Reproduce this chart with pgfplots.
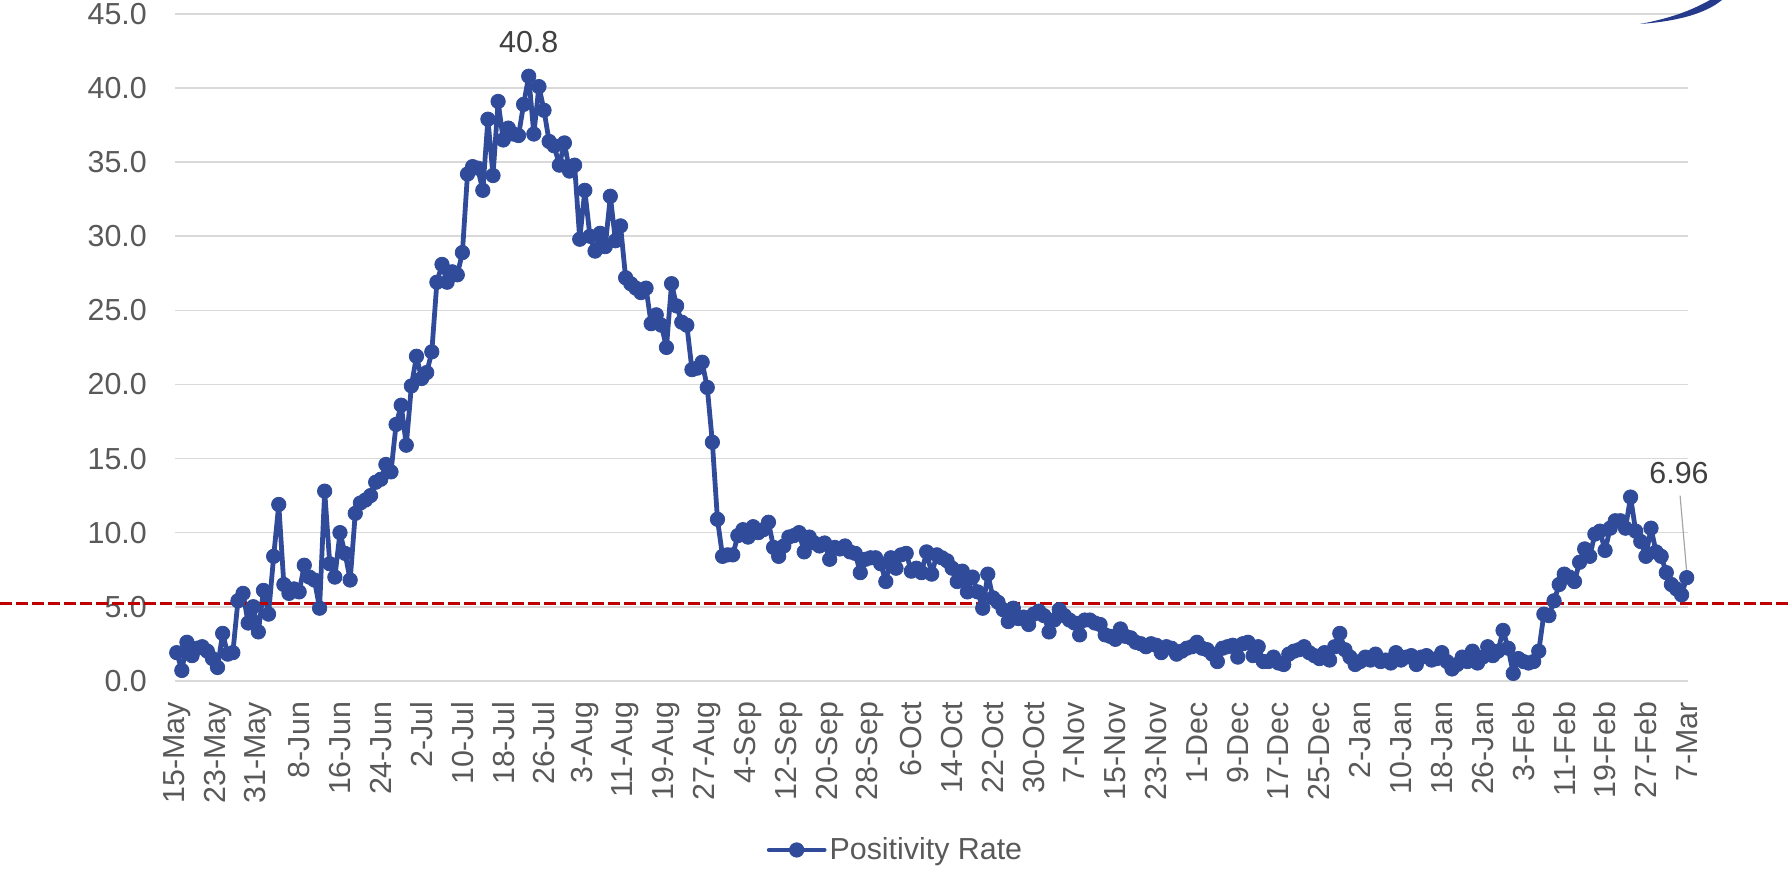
\documentclass[border=0pt]{standalone}
\usepackage{fontspec}
\setmainfont{Liberation Sans}
\usepackage{pgfplots}
\pgfplotsset{compat=1.18}
\definecolor{lineblue}{RGB}{47,75,153}
\definecolor{redline}{RGB}{192,0,0}
\definecolor{gridgray}{RGB}{217,217,217}
\definecolor{labelgray}{RGB}{89,89,89}
\definecolor{labeldark}{RGB}{64,64,64}
\definecolor{leadergray}{RGB}{166,166,166}
\definecolor{logoblue}{RGB}{38,58,140}
\newcommand{\lblfont}{\fontsize{15.2}{18}\selectfont}
\begin{document}
\begin{tikzpicture}
\useasboundingbox (0,0) rectangle (895.5pt,434.5pt);
\begin{axis}[
  at={(87.6pt,94.1pt)}, anchor=south west,
  scale only axis, width=756.5pt, height=333.4pt,
  xmin=-0.3, xmax=296.3, ymin=0, ymax=45,
  clip=false,
  axis line style={draw=none},
  major tick style={draw=none}, minor tick style={draw=none},
  ymajorgrids, grid style={draw=gridgray, line width=0.85pt},
  ytick={0,5,...,45},
  xtick={0,8,...,296},
  xticklabels={15-May,23-May,31-May,8-Jun,16-Jun,24-Jun,2-Jul,10-Jul,18-Jul,26-Jul,3-Aug,11-Aug,19-Aug,27-Aug,4-Sep,12-Sep,20-Sep,28-Sep,6-Oct,14-Oct,22-Oct,30-Oct,7-Nov,15-Nov,23-Nov,1-Dec,9-Dec,17-Dec,25-Dec,2-Jan,10-Jan,18-Jan,26-Jan,3-Feb,11-Feb,19-Feb,27-Feb,7-Mar},
  /pgf/number format/assume math mode=true,
  every tick label/.append style={font=\lblfont, text=labelgray},
  yticklabel style={/pgf/number format/fixed, /pgf/number format/fixed zerofill, /pgf/number format/precision=1, anchor=east, inner sep=0pt, xshift=-14pt},
  xticklabel style={rotate=90, anchor=east, inner sep=0pt},
  xticklabel shift=10.4pt,
  legend style={at={(0.4764,-0.2537)}, anchor=center, draw=none, fill=none, font=\lblfont, text=labelgray, inner sep=0pt, nodes={inner sep=1.5pt}},
  legend image code/.code={\draw[#1, mark repeat=2, mark phase=2] plot coordinates {(0pt,0pt) (13.75pt,0pt) (27.5pt,0pt)};},
]
\addplot[color=lineblue, line width=2.4pt, line join=round, line cap=round, mark=*, mark size=3.6pt, mark options={line width=0.4pt, fill=lineblue, draw=lineblue}] coordinates {
(0,1.9) (1,0.7) (2,2.6) (3,1.7) (4,2.2) (5,2.3) (6,2.0) (7,1.5) (8,0.9) (9,3.2)
(10,1.8) (11,1.9) (12,5.4) (13,5.9) (14,3.9) (15,5.0) (16,3.3) (17,6.1) (18,4.5) (19,8.4)
(20,11.9) (21,6.5) (22,5.9) (23,6.2) (24,6.0) (25,7.8) (26,7.0) (27,6.8) (28,4.9) (29,12.8)
(30,7.9) (31,7.0) (32,10.0) (33,8.6) (34,6.8) (35,11.3) (36,12.0) (37,12.2) (38,12.5) (39,13.4)
(40,13.6) (41,14.6) (42,14.1) (43,17.3) (44,18.6) (45,15.9) (46,19.9) (47,21.9) (48,20.4) (49,20.8)
(50,22.2) (51,26.9) (52,28.1) (53,26.9) (54,27.6) (55,27.4) (56,28.9) (57,34.2) (58,34.7) (59,34.6)
(60,33.1) (61,37.9) (62,34.1) (63,39.1) (64,36.5) (65,37.3) (66,36.9) (67,36.8) (68,38.9) (69,40.8)
(70,36.9) (71,40.1) (72,38.5) (73,36.4) (74,36.1) (75,34.8) (76,36.3) (77,34.4) (78,34.8) (79,29.8)
(80,33.1) (81,30.0) (82,29.0) (83,30.2) (84,29.3) (85,32.7) (86,29.7) (87,30.7) (88,27.2) (89,26.8)
(90,26.5) (91,26.2) (92,26.5) (93,24.1) (94,24.7) (95,24.0) (96,22.5) (97,26.8) (98,25.3) (99,24.2)
(100,24.0) (101,21.0) (102,21.1) (103,21.5) (104,19.8) (105,16.1) (106,10.9) (107,8.4) (108,8.5) (109,8.5)
(110,9.8) (111,10.2) (112,9.7) (113,10.4) (114,10.0) (115,10.2) (116,10.7) (117,9.0) (118,8.4) (119,9.1)
(120,9.7) (121,9.8) (122,10.0) (123,8.7) (124,9.7) (125,9.3) (126,9.1) (127,9.3) (128,8.2) (129,9.0)
(130,8.9) (131,9.1) (132,8.7) (133,8.6) (134,7.3) (135,8.2) (136,8.3) (137,8.3) (138,7.9) (139,6.7)
(140,8.3) (141,7.6) (142,8.5) (143,8.6) (144,7.4) (145,7.6) (146,7.3) (147,8.7) (148,7.2) (149,8.5)
(150,8.3) (151,8.1) (152,7.6) (153,6.7) (154,7.4) (155,6.0) (156,7.0) (157,6.0) (158,4.9) (159,7.2)
(160,5.6) (161,5.3) (162,4.8) (163,4.0) (164,4.9) (165,4.2) (166,4.3) (167,3.8) (168,4.5) (169,4.7)
(170,4.4) (171,3.3) (172,4.1) (173,4.8) (174,4.4) (175,4.1) (176,3.9) (177,3.1) (178,4.1) (179,4.1)
(180,3.9) (181,3.8) (182,3.1) (183,3.0) (184,2.8) (185,3.5) (186,3.0) (187,2.9) (188,2.6) (189,2.5)
(190,2.3) (191,2.5) (192,2.4) (193,1.9) (194,2.3) (195,2.2) (196,1.8) (197,2.0) (198,2.2) (199,2.3)
(200,2.6) (201,2.2) (202,2.1) (203,1.8) (204,1.3) (205,2.2) (206,2.3) (207,2.4) (208,1.6) (209,2.5)
(210,2.6) (211,1.7) (212,2.3) (213,1.3) (214,1.3) (215,1.6) (216,1.2) (217,1.1) (218,1.8) (219,2.0)
(220,2.1) (221,2.3) (222,1.9) (223,1.7) (224,1.5) (225,1.9) (226,1.4) (227,2.3) (228,3.2) (229,2.1)
(230,1.6) (231,1.1) (232,1.3) (233,1.6) (234,1.4) (235,1.8) (236,1.3) (237,1.4) (238,1.2) (239,1.9)
(240,1.4) (241,1.6) (242,1.7) (243,1.1) (244,1.6) (245,1.7) (246,1.4) (247,1.5) (248,1.9) (249,1.3)
(250,0.8) (251,1.1) (252,1.6) (253,1.3) (254,2.0) (255,1.2) (256,1.6) (257,2.3) (258,1.7) (259,2.0)
(260,3.4) (261,2.2) (262,0.5) (263,1.5) (264,1.3) (265,1.2) (266,1.3) (267,2.0) (268,4.5) (269,4.4)
(270,5.4) (271,6.5) (272,7.2) (273,7.0) (274,6.7) (275,8.0) (276,8.9) (277,8.4) (278,9.9) (279,10.1)
(280,8.8) (281,10.3) (282,10.8) (283,10.8) (284,10.3) (285,12.4) (286,10.1) (287,9.4) (288,8.4) (289,10.3)
(290,8.7) (291,8.4) (292,7.3) (293,6.5) (294,6.2) (295,5.8) (296,6.96)
};
\addlegendentry{Positivity Rate}
\addplot[forget plot, draw=redline, line width=1.7pt, dash pattern=on 5.8pt off 2.2pt] coordinates {(-34.64,5.23) (316.5,5.23)};
\node[font=\lblfont, text=labeldark, inner sep=0pt] at ([yshift=17pt]axis cs:69,40.8) {40.8};
\draw[leadergray, line width=0.6pt] ([yshift=3pt]axis cs:296,6.96) -- ([xshift=-3.3pt,yshift=41pt]axis cs:296,6.96);
\node[font=\lblfont, text=labeldark, inner sep=0pt] at ([xshift=-3.85pt,yshift=52.2pt]axis cs:296,6.96) {6.96};
\end{axis}
\fill[logoblue] (820pt,422.5pt) .. controls (840pt,424pt) and (853pt,428pt) .. (861pt,434.5pt) -- (855pt,434.5pt) .. controls (846pt,429.5pt) and (836pt,425.5pt) .. (820pt,422.5pt) -- cycle;
\end{tikzpicture}
\end{document}
